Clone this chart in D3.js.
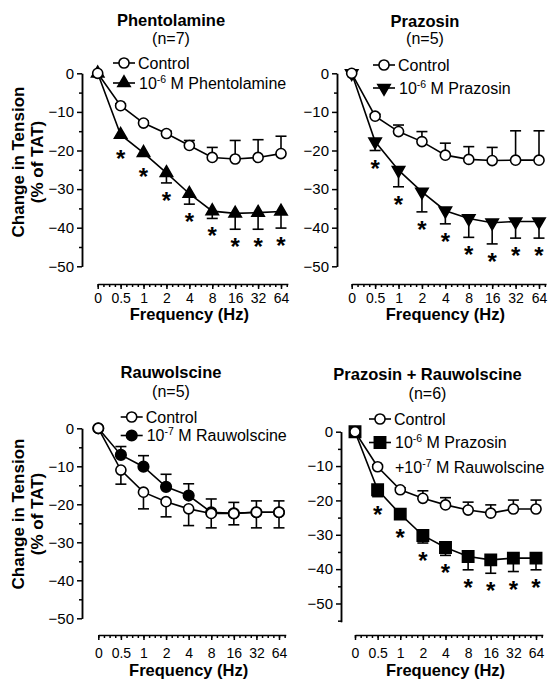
<!DOCTYPE html>
<html>
<head>
<meta charset="utf-8">
<script src="https://cdn.jsdelivr.net/npm/d3@7"></script>
<style>
  body { margin: 0; background: #fff; }
  svg text { font-family: "Liberation Sans", Arial, Helvetica, sans-serif; fill: #000; }
</style>
</head>
<body>
<svg id="chart" width="550" height="685"></svg>
<script>
// x categories (Hz)
const frequencies = ["0", "0.5", "1", "2", "4", "8", "16", "32", "64"];

// y ticks
const yMajorTicks = [0, -10, -20, -30, -40, -50];
const yMinorTicks = [-5, -15, -25, -35, -45, -55];

// Phentolamine (n=7)
const phentControl    = [0, -8.4, -12.9, -15.6, -18.7, -21.8, -22.2, -21.8, -20.8];
const phentControlErr = [0, 0.5, 0.5, 0.6, 1.3, 2.6, 4.8, 4.6, 4.5];
const phentDrug       = [0, -15.9, -20.6, -25.8, -31.2, -35.7, -36.3, -36.1, -35.8];
const phentDrugErr    = [0, 0.8, 0.6, 2.6, 2.7, 1.9, 4.1, 4.3, 4.3];
const phentSig        = [false, true, true, true, true, true, true, true, true];

// Prazosin (n=5)
const prazControl    = [0, -11.1, -15.1, -17.7, -21.2, -22.3, -22.6, -22.5, -22.5];
const prazControlErr = [0, 0.5, 1.7, 2.6, 3.1, 3.3, 3.4, 7.6, 7.6];
const prazDrug       = [0, -17.7, -25.1, -30.7, -35.6, -37.6, -38.7, -38.4, -38.4];
const prazDrugErr    = [0, 2.3, 4.3, 5.2, 3.4, 4.9, 5.5, 4.3, 4.3];
const prazSig        = [false, true, true, true, true, true, true, true, true];

// Rauwolscine (n=5)
const rauwControl    = [0, -11.0, -16.8, -19.3, -21.2, -22.4, -22.4, -22.1, -22.1];
const rauwControlErr = [0, 3.7, 4.4, 4.0, 4.4, 3.8, 3.0, 4.1, 4.1];
const rauwDrug       = [0, -7.0, -10.1, -15.4, -17.7, -22.1, -22.4, -22.1, -22.1];
const rauwDrugErr    = [0, 2.2, 2.9, 3.3, 3.1, 3.5, 2.9, 3.0, 3.0];
const rauwSig        = [false, false, false, false, false, false, false, false, false];

// Prazosin + Rauwolscine (n=6)
const comboControl    = [0, -10.2, -16.9, -19.4, -21.3, -22.8, -23.7, -22.5, -22.5];
const comboControlErr = [0, 0.5, 0.6, 2.2, 2.1, 2.3, 2.4, 2.6, 2.6];
const comboDrug       = [0, -16.9, -24.0, -30.2, -33.7, -36.3, -37.3, -36.8, -36.8];
const comboDrugErr    = [0, 2.0, 0.6, 2.2, 2.3, 3.9, 3.9, 3.9, 3.4];
const comboSig        = [false, true, true, true, true, true, true, true, true];

const panels = [
  {
    title: "Phentolamine", n: "(n=7)", titleX: 171, titleY: 26, nY: 44,
    x0: 97.7, x1: 281, yAxisX: 82, yTop: 73.3, yBottom: 266.3, yMin: -50,
    xAxisY: 284, xPad: 4, xTitleY: 320, yTitle: true, yTitleY: 162,
    control: phentControl, controlErr: phentControlErr, controlDir: 1,
    drug: phentDrug, drugErr: phentDrugErr, drugDir: -1, drugMarker: "triUp", sig: phentSig,
    legendX: 124, legendRows: [63, 83],
    drugLabel: [["10", "-6", " M Phentolamine"]]
  },
  {
    title: "Prazosin", n: "(n=5)", titleX: 425, titleY: 26.5, nY: 44,
    x0: 351.7, x1: 539, yAxisX: 337, yTop: 73.3, yBottom: 266.3, yMin: -50,
    xAxisY: 284, xPad: 4, xTitleY: 320, yTitle: false,
    control: prazControl, controlErr: prazControlErr, controlDir: 1,
    drug: prazDrug, drugErr: prazDrugErr, drugDir: -1, drugMarker: "triDown", sig: prazSig,
    legendX: 384, legendRows: [65, 88],
    drugLabel: [["10", "-6", " M Prazosin"]]
  },
  {
    title: "Rauwolscine", n: "(n=5)", titleX: 171, titleY: 377.5, nY: 397,
    x0: 98.3, x1: 279, yAxisX: 82, yTop: 428.3, yBottom: 618.3, yMin: -50,
    xAxisY: 635, xPad: 8, xTitleY: 676, yTitle: true, yTitleY: 514,
    control: rauwControl, controlErr: rauwControlErr, controlDir: -1,
    drug: rauwDrug, drugErr: rauwDrugErr, drugDir: 1, drugMarker: "dot", sig: rauwSig,
    legendX: 131.7, legendRows: [417, 435.5],
    drugLabel: [["10", "-7", " M Rauwolscine"]]
  },
  {
    title: "Prazosin + Rauwolscine", n: "(n=6)", titleX: 427.5, titleY: 380, nY: 398.5,
    x0: 355, x1: 536, yAxisX: 341, yTop: 431.7, yBottom: 621.7, yMin: -55.3,
    xAxisY: 635, xPad: 8, xTitleY: 676, yTitle: false,
    control: comboControl, controlErr: comboControlErr, controlDir: 1,
    drug: comboDrug, drugErr: comboDrugErr, drugDir: -1, drugMarker: "square", sig: comboSig,
    legendX: 380, legendRows: [419, 442.5, 467],
    drugLabel: [["10", "-6", " M Prazosin"], ["+10", "-7", " M Rauwolscine"]]
  }
];

const svg = d3.select("#chart");

const markerPath = {
  circle: d3.symbol(d3.symbolCircle, 80)(),
  dot: d3.symbol(d3.symbolCircle, 88)(),
  triUp: d3.symbol(d3.symbolTriangle, 66)(),
  triDown: d3.symbol(d3.symbolTriangle, 66)(),
  square: d3.symbol(d3.symbolSquare, 128)()
};

function drawMarker(g, type, x, y) {
  return g.append("path")
    .attr("d", markerPath[type])
    .attr("transform", `translate(${x},${y})` + (type === "triDown" ? " rotate(180)" : ""))
    .attr("stroke", "#000")
    .attr("stroke-width", 1.6)
    .attr("fill", type === "circle" ? "#fff" : "#000");
}

function drawSeries(g, x, y, values, errs, type, dir) {
  const line = d3.line().x((d, i) => x(frequencies[i])).y(d => y(d));
  g.append("path")
    .datum(values)
    .attr("d", line)
    .attr("fill", "none")
    .attr("stroke", "#000")
    .attr("stroke-width", 1.6);

  // one-sided error bars (SEM)
  values.forEach((v, i) => {
    if (!errs[i]) return;
    const cx = x(frequencies[i]);
    const y1 = y(v + dir * errs[i]);
    g.append("line")
      .attr("x1", cx).attr("x2", cx).attr("y1", y(v)).attr("y2", y1)
      .attr("stroke", "#000").attr("stroke-width", 1.6);
    g.append("line")
      .attr("x1", cx - 5.5).attr("x2", cx + 5.5).attr("y1", y1).attr("y2", y1)
      .attr("stroke", "#000").attr("stroke-width", 1.6);
  });

  values.forEach((v, i) => drawMarker(g, type, x(frequencies[i]), y(v)));
}

panels.forEach(p => {
  const g = svg.append("g");

  const x = d3.scalePoint().domain(frequencies).range([p.x0, p.x1]);
  const step = x.step();
  const xIdx = d3.scaleLinear().domain([0, 8.3]).range([p.x0, p.x0 + 8.3 * step]);
  const y = d3.scaleLinear().domain([p.yMin, 0]).range([p.yBottom, p.yTop]);

  // y axis
  const yAxis = g.append("g")
    .attr("transform", `translate(${p.yAxisX},0)`)
    .call(d3.axisLeft(y).tickValues(yMajorTicks).tickSize(5).tickSizeOuter(0).tickPadding(3));
  yAxis.selectAll("text").attr("font-size", 15).attr("font-family", null);
  g.append("g")
    .attr("transform", `translate(${p.yAxisX},0)`)
    .call(d3.axisLeft(y).tickValues(yMinorTicks.filter(t => t >= p.yMin)).tickSize(3).tickSizeOuter(0).tickFormat(""));

  // x axis: labels on category points, minor ticks in between
  const xAxis = g.append("g")
    .attr("transform", `translate(0,${p.xAxisY})`)
    .call(d3.axisBottom(x).tickSize(5).tickSizeOuter(0).tickPadding(p.xPad));
  xAxis.select(".domain").remove();
  xAxis.selectAll("text").attr("font-size", 14).attr("font-family", null);
  g.append("g")
    .attr("transform", `translate(0,${p.xAxisY})`)
    .call(d3.axisBottom(xIdx).tickValues(d3.range(0, 8.3, 0.25)).tickSize(3).tickSizeOuter(0).tickFormat(""));

  g.selectAll(".domain, .tick line").attr("stroke", "#000").attr("stroke-width", 1.5);

  // axis titles
  g.append("text")
    .attr("x", (p.x0 + p.x1) / 2).attr("y", p.xTitleY)
    .attr("text-anchor", "middle").attr("font-size", 16.5).attr("font-weight", "bold")
    .text("Frequency (Hz)");
  if (p.yTitle) {
    const yt = g.append("text")
      .attr("transform", `translate(0,${p.yTitleY}) rotate(-90)`)
      .attr("text-anchor", "middle").attr("font-size", 17).attr("font-weight", "bold");
    yt.append("tspan").attr("x", 0).attr("y", 24).text("Change in Tension");
    yt.append("tspan").attr("x", 0).attr("y", 43).text("(% of TAT)");
  }

  // titles
  g.append("text")
    .attr("x", p.titleX).attr("y", p.titleY)
    .attr("text-anchor", "middle").attr("font-size", 16.5).attr("font-weight", "bold")
    .text(p.title);
  g.append("text")
    .attr("x", p.titleX).attr("y", p.nY)
    .attr("text-anchor", "middle").attr("font-size", 16)
    .text(p.n);

  // drug first, control on top
  drawSeries(g, x, y, p.drug, p.drugErr, p.drugMarker, p.drugDir);
  drawSeries(g, x, y, p.control, p.controlErr, "circle", p.controlDir);

  // significance stars
  p.sig.forEach((s, i) => {
    if (!s) return;
    const low = Math.max(y(p.drug[i] - p.drugErr[i]), y(p.drug[i]) + 6);
    g.append("text")
      .attr("x", x(frequencies[i])).attr("y", low + 13 + 13)
      .attr("text-anchor", "middle").attr("font-size", 24).attr("font-weight", "bold")
      .text("*");
  });

  // legend
  const lx = p.legendX;
  const rows = p.legendRows;
  g.append("line").attr("x1", lx - 11).attr("x2", lx + 11).attr("y1", rows[0]).attr("y2", rows[0])
    .attr("stroke", "#000").attr("stroke-width", 1.6);
  drawMarker(g, "circle", lx, rows[0]);
  g.append("text").attr("x", lx + 14).attr("y", rows[0] + 5.5).attr("font-size", 16).text("Control");

  g.append("line").attr("x1", lx - 11).attr("x2", lx + 11).attr("y1", rows[1]).attr("y2", rows[1])
    .attr("stroke", "#000").attr("stroke-width", 1.6);
  drawMarker(g, p.drugMarker, lx, rows[1]);
  p.drugLabel.forEach((parts, k) => {
    const t = g.append("text").attr("x", lx + 15).attr("y", rows[1 + k] + 5.5).attr("font-size", 16);
    t.append("tspan").text(parts[0]);
    t.append("tspan").attr("font-size", 10.5).attr("dy", -6).text(parts[1]);
    t.append("tspan").attr("dy", 6).text(parts[2]);
  });
});
</script>
</body>
</html>
